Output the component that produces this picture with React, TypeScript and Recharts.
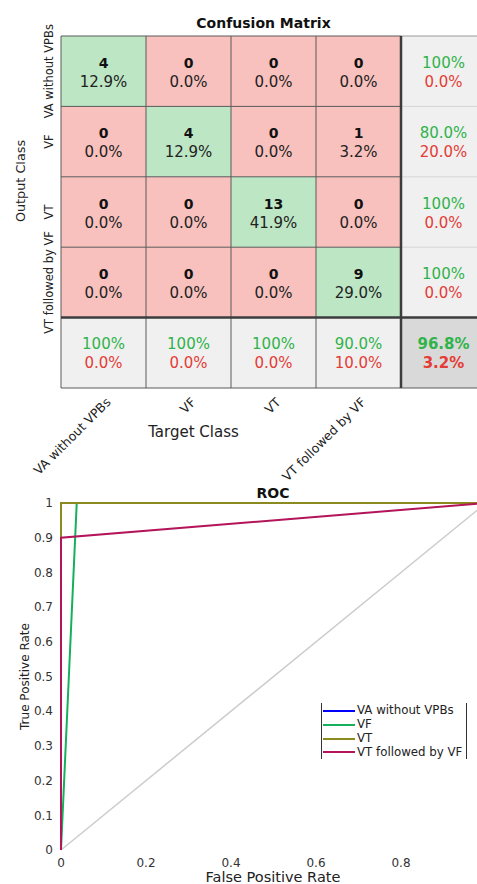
import {
  Legend,
  Line,
  LineChart,
  ReferenceArea,
  ReferenceLine,
  Scatter,
  ScatterChart,
  XAxis,
  YAxis,
} from 'recharts';

const classNames = ['VA without VPBs', 'VF', 'VT', 'VT followed by VF'];

// rows = output class, columns = target class
const confusionCounts = [
  [4, 0, 0, 0],
  [0, 4, 0, 1],
  [0, 0, 13, 0],
  [0, 0, 0, 9],
];

// ROC curve points per class
const vaFpr = [0, 0, 1];
const vaTpr = [0, 1, 1];
const vfFpr = [0, 0.037, 1];
const vfTpr = [0, 1, 1];
const vtFpr = [0, 0, 1];
const vtTpr = [0, 1, 1];
const vtvfFpr = [0, 0, 1];
const vtvfTpr = [0, 0.9, 1];
const chanceFpr = [0, 1];
const chanceTpr = [0, 1];

const rocXTicks = [0, 0.2, 0.4, 0.6, 0.8];
const rocYTicks = [0, 0.1, 0.2, 0.3, 0.4, 0.5, 0.6, 0.7, 0.8, 0.9, 1];

const GREEN_TEXT = '#2fb34a';
const RED_TEXT = '#e43c36';
const FONT = '"DejaVu Sans", sans-serif';

type CellKind = 'hit' | 'miss' | 'summary' | 'overall';
type Cell = { x: number; y: number; top: string; bottom: string; kind: CellKind };

const fmtPct = (v: number) => (v >= 99.95 ? '100%' : `${v.toFixed(1)}%`);
const sum = (a: number[]) => a.reduce((s, v) => s + v, 0);

const n = classNames.length;
const total = sum(confusionCounts.map(sum));

const cells: Cell[] = [];
confusionCounts.forEach((row, r) =>
  row.forEach((count, c) =>
    cells.push({
      x: c + 0.5,
      y: r + 0.5,
      top: String(count),
      bottom: fmtPct((count / total) * 100),
      kind: r === c ? 'hit' : 'miss',
    })
  )
);
// precision per output class (right column)
confusionCounts.forEach((row, r) => {
  const ok = (row[r] / sum(row)) * 100;
  cells.push({ x: n + 0.5, y: r + 0.5, top: fmtPct(ok), bottom: fmtPct(100 - ok), kind: 'summary' });
});
// recall per target class (bottom row)
classNames.forEach((_, c) => {
  const col = confusionCounts.map((row) => row[c]);
  const ok = (col[c] / sum(col)) * 100;
  cells.push({ x: c + 0.5, y: n + 0.5, top: fmtPct(ok), bottom: fmtPct(100 - ok), kind: 'summary' });
});
{
  const correct = sum(confusionCounts.map((row, i) => row[i]));
  const ok = (correct / total) * 100;
  cells.push({ x: n + 0.5, y: n + 0.5, top: fmtPct(ok), bottom: fmtPct(100 - ok), kind: 'overall' });
}

const cellFill: Record<CellKind, string> = {
  hit: '#bde6c4',
  miss: '#f8c1bd',
  summary: '#f0f0f0',
  overall: '#d9d9d9',
};

// grid segments: [x1, y1, x2, y2, color, width]
type Seg = [number, number, number, number, string, number];
const gridSegments: Seg[] = [];
for (let i = 0; i < n; i++) {
  gridSegments.push([i, 0, i, n + 1, '#5a5a5a', 1]);
  gridSegments.push([0, i, n, i, '#5a5a5a', 1]);
  gridSegments.push([n, i, n + 1, i, i === 0 ? '#9a9a9a' : '#d4d4d4', 1]);
}
gridSegments.push([0, n + 1, n + 1, n + 1, '#5a5a5a', 1]);
gridSegments.push([n, 0, n, n + 1, '#3c3c3c', 2.5]);
gridSegments.push([0, n, n + 1, n, '#3c3c3c', 2.5]);

const CellText = (props: any) => {
  const { cx, cy, payload } = props;
  if (payload.kind === 'hit' || payload.kind === 'miss') {
    return (
      <g>
        <text x={cx} y={cy - 3.5} textAnchor="middle" fontSize={14} fontWeight="bold" fill="#111">
          {payload.top}
        </text>
        <text x={cx} y={cy + 15.5} textAnchor="middle" fontSize={15} fill="#222">
          {payload.bottom}
        </text>
      </g>
    );
  }
  const weight = payload.kind === 'overall' ? 'bold' : 'normal';
  return (
    <g>
      <text x={cx} y={cy - 3.5} textAnchor="middle" fontSize={15} fontWeight={weight} fill={GREEN_TEXT}>
        {payload.top}
      </text>
      <text x={cx} y={cy + 15.5} textAnchor="middle" fontSize={15} fontWeight={weight} fill={RED_TEXT}>
        {payload.bottom}
      </text>
    </g>
  );
};

const OutputTick = ({ x, y, payload }: any) => (
  <text
    x={x}
    y={y}
    transform={`rotate(-90, ${x}, ${y})`}
    textAnchor="middle"
    fontSize={11.5}
    fill="#222"
  >
    {classNames[Math.floor(payload.value)]}
  </text>
);

const TargetTick = ({ x, y, payload }: any) => (
  <text
    x={x + 8}
    y={y + 7}
    transform={`rotate(-45, ${x + 8}, ${y + 7})`}
    textAnchor="end"
    fontSize={12.5}
    fill="#222"
  >
    {classNames[Math.floor(payload.value)]}
  </text>
);

const RocLegend = ({ payload }: any) => (
  <div
    style={{
      width: 146,
      height: 56,
      boxSizing: 'border-box',
      paddingTop: 1.5,
      borderLeft: '1px solid #333',
      borderRight: '1px solid #333',
      background: '#fff',
      fontFamily: FONT,
    }}
  >
    {(payload || [])
      .filter((entry: any) => entry.type !== 'none')
      .map((entry: any) => (
        <div key={entry.value} style={{ display: 'flex', alignItems: 'center', height: 13.7 }}>
          <span style={{ flex: 'none', width: 32, height: 2, marginLeft: 1, background: entry.color }} />
          <span style={{ marginLeft: 2, fontSize: 11.8, lineHeight: 1, color: '#222', whiteSpace: 'nowrap' }}>
            {entry.value}
          </span>
        </div>
      ))}
  </div>
);

const toPoints = (fpr: number[], tpr: number[]) => fpr.map((f, i) => ({ fpr: f, tpr: tpr[i] }));

export default function App() {
  const centers = classNames.map((_, i) => i + 0.5);
  return (
    <div
      style={{
        width: 477,
        height: 884,
        overflow: 'hidden',
        position: 'relative',
        background: '#fff',
        fontFamily: FONT,
      }}
    >
      <style>{'body{margin:0}'}</style>
      <div style={{ position: 'absolute', left: 0, top: 0 }}>
        <ScatterChart width={495} height={495} margin={{ top: 36, right: 9, bottom: 0, left: 0 }}>
          <XAxis
            type="number"
            dataKey="x"
            domain={[0, n + 1]}
            ticks={centers}
            tick={<TargetTick />}
            axisLine={false}
            tickLine={false}
            height={107}
            interval={0}
          />
          <YAxis
            type="number"
            dataKey="y"
            domain={[0, n + 1]}
            ticks={centers}
            tick={<OutputTick />}
            axisLine={false}
            tickLine={false}
            width={61}
            reversed
            interval={0}
          />
          {cells.map((c, i) => (
            <ReferenceArea
              key={`a${i}`}
              x1={c.x - 0.5}
              x2={c.x + 0.5}
              y1={c.y - 0.5}
              y2={c.y + 0.5}
              fill={cellFill[c.kind]}
              fillOpacity={1}
              stroke="none"
            />
          ))}
          {gridSegments.map(([x1, y1, x2, y2, color, w], i) => (
            <ReferenceLine
              key={`g${i}`}
              segment={[
                { x: x1, y: y1 },
                { x: x2, y: y2 },
              ]}
              stroke={color}
              strokeWidth={w}
              ifOverflow="visible"
            />
          ))}
          <Scatter data={cells} shape={CellText} isAnimationActive={false} />
          <text x={263.5} y={28} textAnchor="middle" fontSize={14} fontWeight="bold" fill="#111">
            Confusion Matrix
          </text>
          <text x={25} y={181} transform="rotate(-90, 25, 181)" textAnchor="middle" fontSize={12.8} fill="#222">
            Output Class
          </text>
          <text x={193.5} y={437} textAnchor="middle" fontSize={15} fill="#222">
            Target Class
          </text>
        </ScatterChart>
      </div>

      <div style={{ position: 'absolute', left: 0, top: 470 }}>
        <LineChart width={495} height={414} margin={{ top: 33, right: 9, bottom: 0, left: 0 }}>
          <XAxis
            type="number"
            dataKey="fpr"
            domain={[0, 1]}
            ticks={rocXTicks}
            axisLine={false}
            tickLine={false}
            height={34}
            tick={{ fill: '#333', fontSize: 12 }}
            interval={0}
          />
          <YAxis
            type="number"
            dataKey="tpr"
            domain={[0, 1]}
            ticks={rocYTicks}
            axisLine={false}
            tickLine={false}
            width={61}
            tick={{ fill: '#333', fontSize: 12 }}
            interval={0}
          />
          <Line
            data={toPoints(chanceFpr, chanceTpr)}
            dataKey="tpr"
            stroke="#cccccc"
            strokeWidth={1.5}
            dot={false}
            legendType="none"
            isAnimationActive={false}
          />
          <Line data={toPoints(vaFpr, vaTpr)} dataKey="tpr" name="VA without VPBs" stroke="#0000ff" strokeWidth={2} dot={false} isAnimationActive={false} />
          <Line data={toPoints(vfFpr, vfTpr)} dataKey="tpr" name="VF" stroke="#14b05c" strokeWidth={2} dot={false} isAnimationActive={false} />
          <Line data={toPoints(vtFpr, vtTpr)} dataKey="tpr" name="VT" stroke="#8a8a1e" strokeWidth={2} dot={false} isAnimationActive={false} />
          <Line data={toPoints(vtvfFpr, vtvfTpr)} dataKey="tpr" name="VT followed by VF" stroke="#b3145a" strokeWidth={2} dot={false} isAnimationActive={false} />
          <Legend
            layout="vertical"
            align="center"
            verticalAlign="middle"
            content={<RocLegend />}
            wrapperStyle={{ left: 321, top: 233, width: 146 }}
          />
          <text x={273} y={28} textAnchor="middle" fontSize={14} fontWeight="bold" fill="#111">
            ROC
          </text>
          <text x={29} y={206.5} transform="rotate(-90, 29, 206.5)" textAnchor="middle" fontSize={12} fill="#222">
            True Positive Rate
          </text>
          <text x={273} y={412} textAnchor="middle" fontSize={14.5} fill="#222">
            False Positive Rate
          </text>
        </LineChart>
      </div>
    </div>
  );
}
